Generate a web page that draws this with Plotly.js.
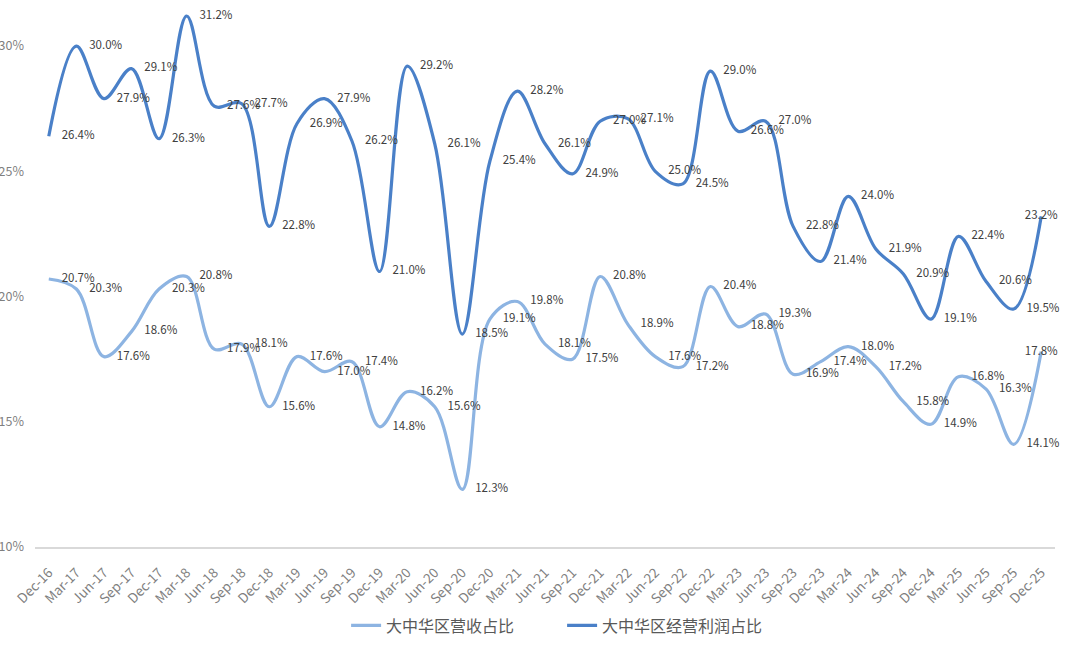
<!DOCTYPE html>
<html>
<head>
<meta charset="utf-8">
<script src="https://cdn.plot.ly/plotly-3.0.1.min.js"></script>
<style>
html,body{margin:0;padding:0;background:#fff;}
#chart{width:1080px;height:649px;}
</style>
</head>
<body>
<div id="chart"></div>
<script>
const categories = ["Dec-16","Mar-17","Jun-17","Sep-17","Dec-17","Mar-18","Jun-18","Sep-18","Dec-18","Mar-19","Jun-19","Sep-19","Dec-19","Mar-20","Jun-20","Sep-20","Dec-20","Mar-21","Jun-21","Sep-21","Dec-21","Mar-22","Jun-22","Sep-22","Dec-22","Mar-23","Jun-23","Sep-23","Dec-23","Mar-24","Jun-24","Sep-24","Dec-24","Mar-25","Jun-25","Sep-25","Dec-25"];

const revenueShare = [20.7,20.3,17.6,18.6,20.3,20.8,17.9,18.1,15.6,17.6,17.0,17.4,14.8,16.2,15.6,12.3,19.1,19.8,18.1,17.5,20.8,18.9,17.6,17.2,20.4,18.8,19.3,16.9,17.4,18.0,17.2,15.8,14.9,16.8,16.3,14.1,17.8];

const profitShare = [26.4,30.0,27.9,29.1,26.3,31.2,27.6,27.7,22.8,26.9,27.9,26.2,21.0,29.2,26.1,18.5,25.4,28.2,26.1,24.9,27.0,27.1,25.0,24.5,29.0,26.6,27.0,22.8,21.4,24.0,21.9,20.9,19.1,22.4,20.6,19.5,23.2];

const yTickVals = [10,15,20,25,30];
const yTickText = ["10%","15%","20%","25%","30%"];

const revenueName = "大中华区营收占比";
const profitName = "大中华区经营利润占比";

const labelFont = {family: "Noto Sans CJK SC, Noto Sans, sans-serif", size: 11.5, color: "#404040"};

function positions(n){
  const p = [];
  for(let i=0;i<n;i++) p.push(i===n-1 ? "middle center" : "middle right");
  return p;
}

const traces = [
  {
    x: categories, y: revenueShare, name: revenueName, type: "scatter",
    mode: "lines+markers+text",
    line: {color: "#8db4e2", width: 3.2, shape: "spline", smoothing: 1},
    marker: {size: 19, color: "rgba(0,0,0,0)"},
    text: revenueShare.map(v => v.toFixed(1) + "%"),
    textposition: positions(revenueShare.length),
    textfont: labelFont,
    cliponaxis: false,
    hoverinfo: "skip"
  },
  {
    x: categories, y: profitShare, name: profitName, type: "scatter",
    mode: "lines+markers+text",
    line: {color: "#4a80c8", width: 3.2, shape: "spline", smoothing: 1},
    marker: {size: 19, color: "rgba(0,0,0,0)"},
    text: profitShare.map(v => v.toFixed(1) + "%"),
    textposition: positions(profitShare.length),
    textfont: labelFont,
    cliponaxis: false,
    hoverinfo: "skip"
  }
];

const layout = {
  width: 1080, height: 649,
  paper_bgcolor: "#ffffff", plot_bgcolor: "#ffffff",
  margin: {l: 35, r: 25, t: 6, b: 99},
  font: {family: "Noto Sans CJK SC, Noto Sans, sans-serif", color: "#595959"},
  showlegend: true,
  legend: {
    orientation: "h", x: 0.305, xanchor: "left", y: -0.145, yanchor: "middle",
    font: {size: 16, color: "#595959"}, itemwidth: 30, traceorder: "normal",
    entrywidth: 171, entrywidthmode: "pixels"
  },
  xaxis: {
    type: "category", range: [-0.5, 36.5],
    showgrid: false, zeroline: false,
    showline: true, linecolor: "#d9d9d9", linewidth: 1.5,
    ticks: "", tickangle: -45, ticklabelstandoff: 11,
    tickfont: {size: 13.5, color: "#7f7f7f"}
  },
  yaxis: {
    range: [10, 31.6],
    tickvals: yTickVals, ticktext: yTickText,
    showgrid: false, zeroline: false, showline: false,
    ticks: "", ticklabelstandoff: 10,
    tickfont: {size: 12.5, color: "#7f7f7f"}
  }
};

Plotly.newPlot("chart", traces, layout, {displayModeBar: false, staticPlot: true});
</script>
</body>
</html>
